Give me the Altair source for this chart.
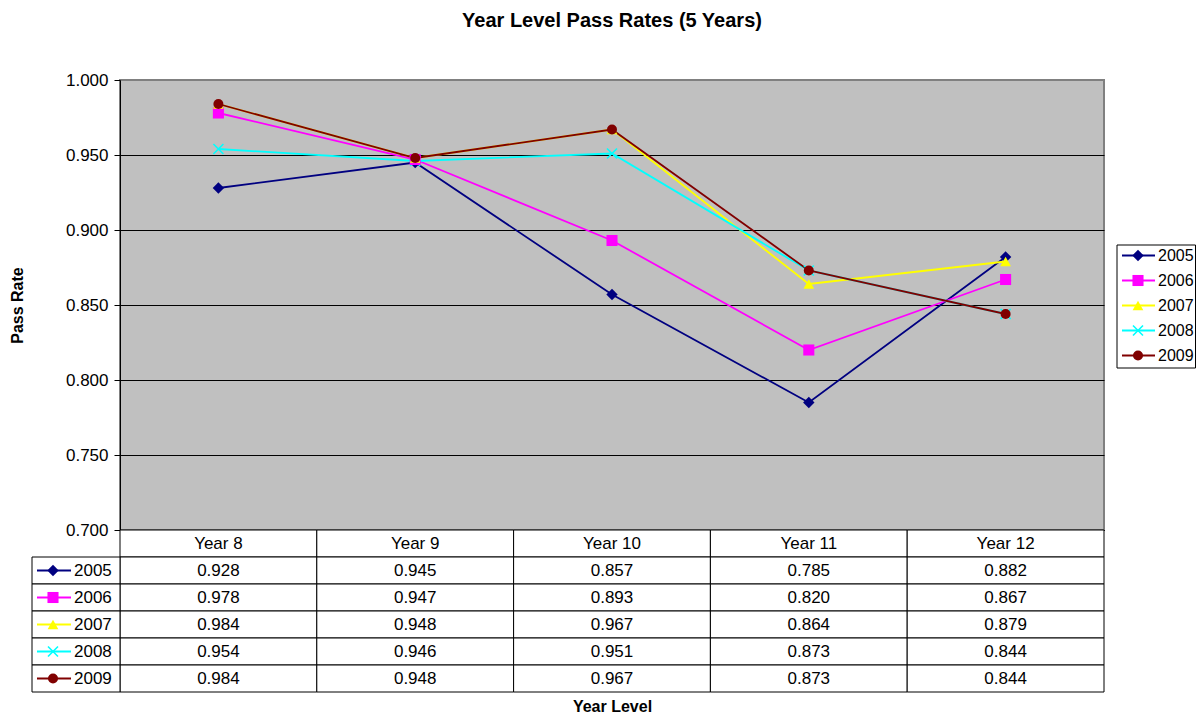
import altair as alt
import pandas as pd

# ---------------- data ----------------
levels = ["Year 8", "Year 9", "Year 10", "Year 11", "Year 12"]
series = ["2005", "2006", "2007", "2008", "2009"]
r2005 = [0.928, 0.945, 0.857, 0.785, 0.882]
r2006 = [0.978, 0.947, 0.893, 0.820, 0.867]
r2007 = [0.984, 0.948, 0.967, 0.864, 0.879]
r2008 = [0.954, 0.946, 0.951, 0.873, 0.844]
r2009 = [0.984, 0.948, 0.967, 0.873, 0.844]
y_ticks = [0.70, 0.75, 0.80, 0.85, 0.90, 0.95, 1.00]

colors = ["#000080", "#FF00FF", "#FFFF00", "#00FFFF", "#800000"]
shapes = ["diamond", "square", "triangle-up", "M-1,-1L1,1M-1,1L1,-1", "circle"]
sizes = [130, 100, 130, 100, 140]
X_PATH = "M-1,-1L1,1M-1,1L1,-1"

rates = dict(zip(series, [r2005, r2006, r2007, r2008, r2009]))
rows = []
for s in series:
    for lvl, v in zip(levels, rates[s]):
        rows.append({"level": lvl, "series": s, "row": s, "rate": v, "label": f"{v:.3f}"})
df = pd.DataFrame(rows)
hdr = pd.DataFrame({"level": levels, "row": ["hdr"] * len(levels), "label": levels})
table_df = pd.concat([hdr, df[["level", "row", "label"]]], ignore_index=True)
key_df = pd.DataFrame({"series": series, "row": series})
box_df = pd.DataFrame({"a": [0]})

FONT = "Liberation Sans"
FS = 17

# ---------------- scales / encodings ----------------
xscale = alt.Scale(type="band", domain=levels, paddingInner=0, paddingOuter=0)
yscale = alt.Scale(domain=[0.7, 1.0], zero=False, nice=False)
tscale = alt.Scale(type="band", domain=["hdr"] + series, range=[450, 612],
                   paddingInner=0, paddingOuter=0)
lscale = alt.Scale(type="band", domain=series, range=[163, 288],
                   paddingInner=0, paddingOuter=0)

color_enc = alt.Color("series:N", scale=alt.Scale(domain=series, range=colors), legend=None)
shape_enc = alt.Shape("series:N", scale=alt.Scale(domain=series, range=shapes), legend=None)
size_enc = alt.Size("series:N", scale=alt.Scale(domain=series, range=sizes), legend=None)

x_axis = alt.Axis(labels=False, ticks=False, domain=True, domainColor="black",
                  domainWidth=1, grid=False, title="Year Level", titleFont=FONT,
                  titleFontSize=16, titleFontWeight="bold", titleColor="black",
                  titlePadding=168)
y_axis = alt.Axis(values=y_ticks, format=".3f", grid=True, gridColor="black",
                  gridWidth=1,
                  gridOpacity={"condition": {"test": "datum.value >= 0.999", "value": 0},
                               "value": 1},
                  tickSize=6, tickColor="black", domainColor="black",
                  labelFont=FONT, labelFontSize=FS, labelColor="black",
                  labelPadding=6, title="Pass Rate", titleFont=FONT,
                  titleFontSize=16, titleFontWeight="bold", titleColor="black",
                  titlePadding=40)

# ---------------- plot ----------------
base = alt.Chart(df)
lines = base.mark_line(strokeWidth=1.8).encode(
    x=alt.X("level:N", scale=xscale, bandPosition=0.5, axis=x_axis),
    y=alt.Y("rate:Q", scale=yscale, axis=y_axis),
    color=color_enc,
)
pts_x = base.transform_filter("datum.series == '2008'").mark_point(
    filled=False, opacity=1, shape=X_PATH, size=100, strokeWidth=1.6).encode(
    x=alt.X("level:N", scale=xscale, bandPosition=0.5),
    y=alt.Y("rate:Q", scale=yscale),
    color=color_enc,
)
pts = base.transform_filter("datum.series != '2008'").mark_point(
    filled=True, opacity=1).encode(
    x=alt.X("level:N", scale=xscale, bandPosition=0.5),
    y=alt.Y("rate:Q", scale=yscale),
    color=color_enc, shape=shape_enc, size=size_enc,
)
plot = alt.layer(lines, pts_x, pts)

# ---------------- data table ----------------
cells = alt.Chart(table_df).mark_rect(fill="white", stroke="black", strokeWidth=1).encode(
    x=alt.X("level:N", scale=xscale, axis=None),
    y=alt.Y("row:N", scale=tscale, axis=None),
)
cell_text = alt.Chart(table_df).mark_text(font=FONT, fontSize=FS, color="black",
                                          baseline="middle", align="center").encode(
    x=alt.X("level:N", scale=xscale, bandPosition=0.5, axis=None),
    y=alt.Y("row:N", scale=tscale, bandPosition=0.5, axis=None),
    text="label:N",
)
kb = alt.Chart(key_df)
key_cells = kb.mark_rect(fill="white", stroke="black", strokeWidth=1).encode(
    x=alt.value(-88), x2=alt.value(0),
    y=alt.Y("row:N", scale=tscale, axis=None),
)
key_rules = kb.mark_rule(strokeWidth=1.8).encode(
    x=alt.value(-83), x2=alt.value(-49),
    y=alt.Y("row:N", scale=tscale, bandPosition=0.5, axis=None),
    color=color_enc,
)
key_pts = kb.transform_filter("datum.series != '2008'").mark_point(filled=True, opacity=1).encode(
    x=alt.value(-67),
    y=alt.Y("row:N", scale=tscale, bandPosition=0.5, axis=None),
    color=color_enc, shape=shape_enc, size=size_enc,
)
key_x = kb.transform_filter("datum.series == '2008'").mark_point(
    filled=False, opacity=1, shape=X_PATH, size=100, strokeWidth=1.6).encode(
    x=alt.value(-67),
    y=alt.Y("row:N", scale=tscale, bandPosition=0.5, axis=None),
    color=color_enc,
)
key_text = kb.mark_text(font=FONT, fontSize=FS, color="black", align="left",
                        baseline="middle").encode(
    x=alt.value(-46),
    y=alt.Y("row:N", scale=tscale, bandPosition=0.5, axis=None),
    text="series:N",
)
table = alt.layer(cells, cell_text, key_cells, key_rules, key_pts, key_x, key_text)

# ---------------- legend ----------------
lb = alt.Chart(key_df)
leg_box = alt.Chart(box_df).mark_rect(fill="white", stroke="black", strokeWidth=1).encode(
    x=alt.value(997), x2=alt.value(1075.5), y=alt.value(165), y2=alt.value(288),
)
leg_rules = lb.mark_rule(strokeWidth=1.8).encode(
    x=alt.value(1002), x2=alt.value(1035),
    y=alt.Y("series:N", scale=lscale, bandPosition=0.5, axis=None),
    color=color_enc,
)
leg_pts = lb.transform_filter("datum.series != '2008'").mark_point(filled=True, opacity=1).encode(
    x=alt.value(1018),
    y=alt.Y("series:N", scale=lscale, bandPosition=0.5, axis=None),
    color=color_enc, shape=shape_enc, size=size_enc,
)
leg_x = lb.transform_filter("datum.series == '2008'").mark_point(
    filled=False, opacity=1, shape=X_PATH, size=100, strokeWidth=1.6).encode(
    x=alt.value(1018),
    y=alt.Y("series:N", scale=lscale, bandPosition=0.5, axis=None),
    color=color_enc,
)
leg_text = lb.mark_text(font=FONT, fontSize=16, color="black", align="left",
                        baseline="middle").encode(
    x=alt.value(1038),
    y=alt.Y("series:N", scale=lscale, bandPosition=0.5, axis=None),
    text="series:N",
)
legend = alt.layer(leg_box, leg_rules, leg_pts, leg_x, leg_text)

chart = alt.layer(plot, table, legend).resolve_scale(
    x="independent", y="independent"
).properties(
    width=984,
    height=450,
    autosize=alt.AutoSizeParams(type="none"),
    padding={"left": 112, "top": 72, "right": 92, "bottom": 183},
    title=alt.TitleParams("Year Level Pass Rates (5 Years)", font=FONT, fontSize=20,
                          fontWeight="bold", color="black", anchor="middle", offset=40),
).configure(
    background="white",
).configure_view(
    fill="#C0C0C0", stroke="#808080", strokeWidth=2,
)

chart.save("out.html", embed_options={"renderer": "svg", "actions": False})
